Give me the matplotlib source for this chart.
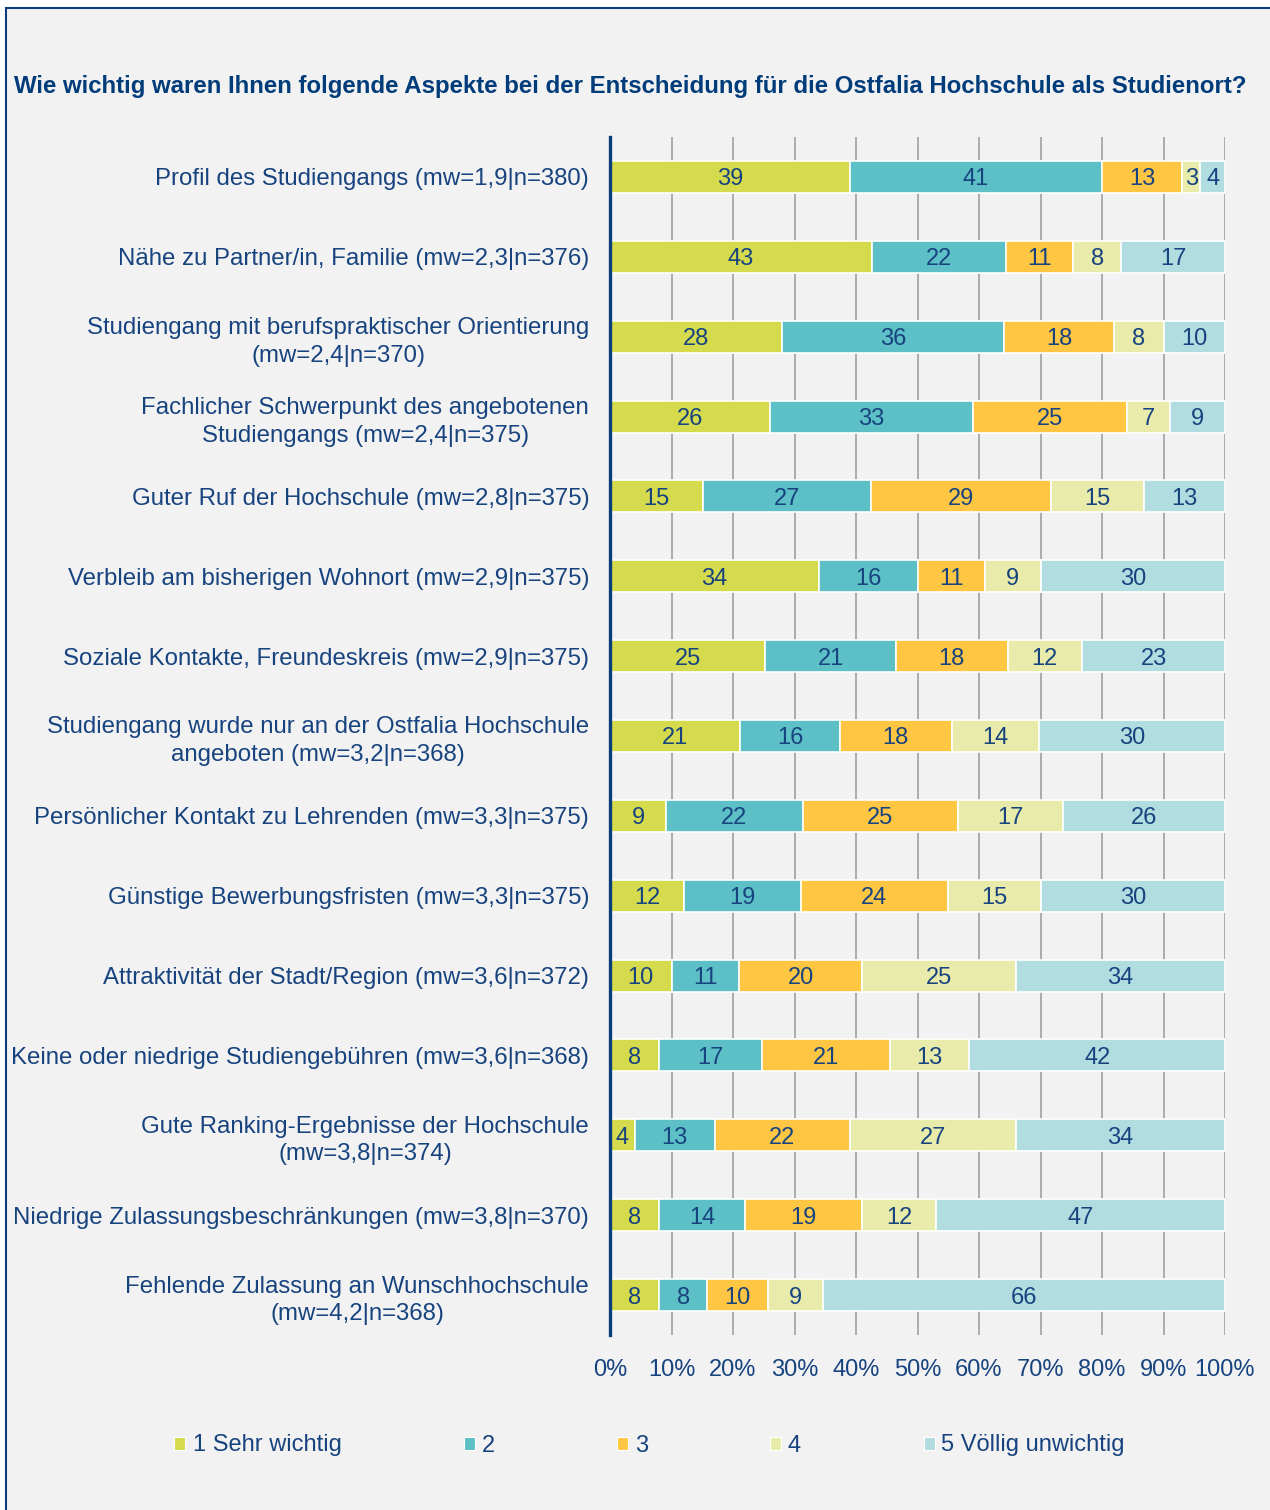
import matplotlib
matplotlib.use("Agg")
import matplotlib.pyplot as plt
from matplotlib.patches import Rectangle
import numpy as np

categories = [
    "Profil des Studiengangs (mw=1,9|n=380)",
    "Nähe zu Partner/in, Familie (mw=2,3|n=376)",
    "Studiengang mit berufspraktischer Orientierung\n(mw=2,4|n=370)",
    "Fachlicher Schwerpunkt des angebotenen\nStudiengangs (mw=2,4|n=375)",
    "Guter Ruf der Hochschule (mw=2,8|n=375)",
    "Verbleib am bisherigen Wohnort (mw=2,9|n=375)",
    "Soziale Kontakte, Freundeskreis (mw=2,9|n=375)",
    "Studiengang wurde nur an der Ostfalia Hochschule\nangeboten (mw=3,2|n=368)",
    "Persönlicher Kontakt zu Lehrenden (mw=3,3|n=375)",
    "Günstige Bewerbungsfristen (mw=3,3|n=375)",
    "Attraktivität der Stadt/Region (mw=3,6|n=372)",
    "Keine oder niedrige Studiengebühren (mw=3,6|n=368)",
    "Gute Ranking-Ergebnisse der Hochschule\n(mw=3,8|n=374)",
    "Niedrige Zulassungsbeschränkungen (mw=3,8|n=370)",
    "Fehlende Zulassung an Wunschhochschule\n(mw=4,2|n=368)",
]
sehr_wichtig = [39, 43, 28, 26, 15, 34, 25, 21, 9, 12, 10, 8, 4, 8, 8]
stufe_2 = [41, 22, 36, 33, 27, 16, 21, 16, 22, 19, 11, 17, 13, 14, 8]
stufe_3 = [13, 11, 18, 25, 29, 11, 18, 18, 25, 24, 20, 21, 22, 19, 10]
stufe_4 = [3, 8, 8, 7, 15, 9, 12, 14, 17, 15, 25, 13, 27, 12, 9]
voellig_unwichtig = [4, 17, 10, 9, 13, 30, 23, 30, 26, 30, 34, 42, 34, 47, 66]
series_names = ["1 Sehr wichtig", "2", "3", "4", "5 Völlig unwichtig"]
tick_labels = [f"{v}%" for v in range(0, 101, 10)]
title = "Wie wichtig waren Ihnen folgende Aspekte bei der Entscheidung für die Ostfalia Hochschule als Studienort?"

colors = ["#D5DB4C", "#5CC0C6", "#FFC643", "#E8EBAA", "#B2DDE0"]
dark = "#0B3C7C"
txt = "#17437F"

plt.rcParams['font.family'] = ['Liberation Sans', 'DejaVu Sans']

fig = plt.figure(figsize=(12.7, 15.1), dpi=100)
fig.patch.set_facecolor("white")
W, H = 1270, 1510
# frame
fig.patches.append(Rectangle((6 / W, -0.01), 1.0, (H - 8) / H + 0.01, transform=fig.transFigure,
                             facecolor="#F2F2F2", edgecolor=dark, lw=1.5, zorder=-5))

ax = fig.add_axes([610 / W, 1 - 1335 / H, (1225 - 610) / W, (1335 - 137) / H])
ax.set_facecolor("none")
ax.set_zorder(2)

data = np.array([sehr_wichtig, stufe_2, stufe_3, stufe_4, voellig_unwichtig], dtype=float)
totals = data.sum(axis=0)
shares = data / totals * 100
y = np.arange(len(categories))
left = np.zeros(len(categories))
for i in range(5):
    ax.barh(y, shares[i], left=left, height=0.4, color=colors[i], edgecolor="white",
            linewidth=1.2, zorder=3, label=series_names[i])
    for j in range(len(categories)):
        ax.text(left[j] + shares[i][j] / 2, y[j], f"{int(data[i][j])}", ha="center",
                va="center_baseline", fontsize=17, color=txt, zorder=4)
    left += shares[i]

ax.set_xlim(0, 100)
ax.set_ylim(len(categories) - 0.5, -0.5)
ax.set_xticks(range(0, 101, 10))
ax.set_xticklabels(tick_labels)
ax.set_yticks(y)
ax.set_yticklabels(categories)
for lab in ax.get_yticklabels():
    lab.set_multialignment("center")
    lab.set_linespacing(1.33)
ax.tick_params(axis="y", length=0, pad=15, labelsize=17.3, labelcolor=txt)
ax.tick_params(axis="x", length=0, pad=17, labelsize=17, labelcolor=txt)
ax.xaxis.grid(True, color="#A6A6A6", lw=1.3, zorder=0)
ax.set_axisbelow(True)
for s in ["top", "right", "bottom"]:
    ax.spines[s].set_visible(False)
ax.spines["left"].set_color(dark)
ax.spines["left"].set_linewidth(2.4)
ax.spines["left"].set_zorder(5)

fig.text(14 / W, 1 - 84 / H, title, fontsize=17.3, fontweight="bold", color="#003B7A",
         ha="left", va="center_baseline")

# legend
marker_x = [174, 464, 617, 770, 924]
text_x = [193, 482, 635, 788, 941]
ly = 1443
for i in range(5):
    fig.patches.append(Rectangle((marker_x[i] / W, 1 - (ly + 7) / H), 11 / W, 13 / H,
                                 transform=fig.transFigure, facecolor=colors[i],
                                 edgecolor="white", lw=0.8, zorder=5))
    fig.text(text_x[i] / W, 1 - ly / H, series_names[i], fontsize=17, color=txt,
             ha="left", va="center_baseline")

fig.savefig("out.png", dpi=100, facecolor=fig.get_facecolor())
